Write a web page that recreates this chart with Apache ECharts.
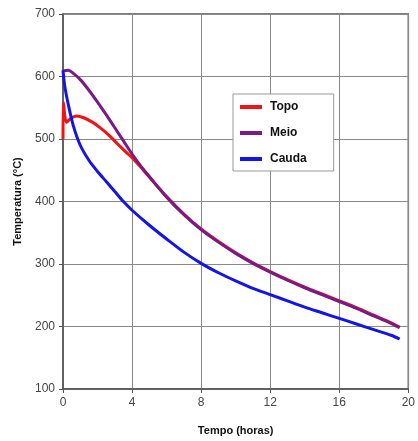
<!DOCTYPE html>
<html>
<head>
<meta charset="utf-8">
<script src="https://cdn.jsdelivr.net/npm/echarts@6/dist/echarts.min.js"></script>
<style>
  html, body { margin: 0; padding: 0; background: #fff; }
  #chart { width: 418px; height: 441px; }
</style>
</head>
<body>
<div id="chart"></div>
<script>
// tempo (horas) / temperatura (°C)
const topo = [
  [0, 500], [0.03, 558], [0.2, 527], [0.5, 534], [0.8, 537], [1.2, 534],
  [1.7, 527], [2.2, 517], [2.7, 505], [3.2, 491], [3.65, 479], [4, 470],
  [4.5, 455], [5, 439], [6, 408], [7, 380], [8, 356], [9, 336], [10, 318],
  [11, 302], [12, 288], [13, 275], [14, 263], [15, 252], [16, 241], [17, 230],
  [18, 218], [19, 206], [19.5, 199]
];
const meio = [
  [0, 609], [0.3, 610], [0.6, 605], [1, 595], [1.5, 578], [2, 559],
  [2.5, 539], [3, 518], [3.5, 497], [4, 476], [4.5, 457], [5, 440], [6, 407],
  [7, 379], [8, 355], [9, 335], [10, 317], [11, 301], [12, 287], [13, 274],
  [14, 262], [15, 251], [16, 240], [17, 229], [18, 217], [19, 205], [19.5, 198]
];
const cauda = [
  [0, 610], [0.1, 585], [0.3, 556], [0.6, 521], [1, 490], [1.5, 466],
  [2, 448], [2.5, 432], [3, 416], [3.5, 400], [4, 386], [5, 362], [6, 340],
  [7, 319], [8, 301], [9, 286], [10, 273], [11, 261], [12, 251], [13, 241],
  [14, 231], [15, 222], [16, 213], [17, 204], [18, 195], [19, 186], [19.5, 180]
];

const chart = echarts.init(document.getElementById('chart'));
chart.setOption({
  animation: false,
  textStyle: { fontFamily: 'Liberation Sans, Arial, sans-serif' },
  grid: {
    left: 63, right: 5, top: 14, bottom: 50,
    show: true, borderColor: '#555', borderWidth: 1.5
  },
  legend: {
    orient: 'vertical',
    left: 233, top: 94,
    padding: [7, 27, 6, 7],
    itemGap: 14,
    itemWidth: 22, itemHeight: 4,
    backgroundColor: '#fff',
    borderColor: '#999', borderWidth: 1,
    textStyle: { fontSize: 12, fontWeight: 'bold', color: '#111', padding: [0, 0, 0, 3] },
    data: [
      { name: 'Topo', icon: 'rect' },
      { name: 'Meio', icon: 'rect' },
      { name: 'Cauda', icon: 'rect' }
    ]
  },
  xAxis: {
    type: 'value', min: 0, max: 20, interval: 4,
    name: 'Tempo (horas)', nameLocation: 'middle', nameGap: 36,
    nameTextStyle: { fontSize: 11, fontWeight: 'bold', color: '#111' },
    axisLine: { lineStyle: { color: '#555', width: 1.5 } },
    axisTick: { show: true, length: 4, lineStyle: { color: '#555' } },
    axisLabel: { fontSize: 12, color: '#444', margin: 8 },
    splitLine: { lineStyle: { color: '#888', width: 1 } }
  },
  yAxis: {
    type: 'value', min: 100, max: 700, interval: 100,
    name: 'Temperatura (°C)', nameLocation: 'middle', nameGap: 40,
    nameTextStyle: { fontSize: 11, fontWeight: 'bold', color: '#111' },
    axisLine: { show: true, lineStyle: { color: '#555', width: 1.5 } },
    axisTick: { show: true, length: 4, lineStyle: { color: '#555' } },
    axisLabel: { fontSize: 12, color: '#444', margin: 8 },
    splitLine: { lineStyle: { color: '#888', width: 1 } }
  },
  series: [
    {
      name: 'Topo', type: 'line', data: topo, smooth: 0.3, showSymbol: false,
      lineStyle: { color: '#f01414', width: 3 }, itemStyle: { color: '#f01414' }
    },
    {
      name: 'Meio', type: 'line', data: meio, smooth: 0.3, showSymbol: false,
      lineStyle: { color: '#7a1a86', width: 3 }, itemStyle: { color: '#7a1a86' }
    },
    {
      name: 'Cauda', type: 'line', data: cauda, smooth: 0.3, showSymbol: false,
      lineStyle: { color: '#1414e6', width: 3 }, itemStyle: { color: '#1414e6' }
    }
  ]
});
</script>
</body>
</html>
